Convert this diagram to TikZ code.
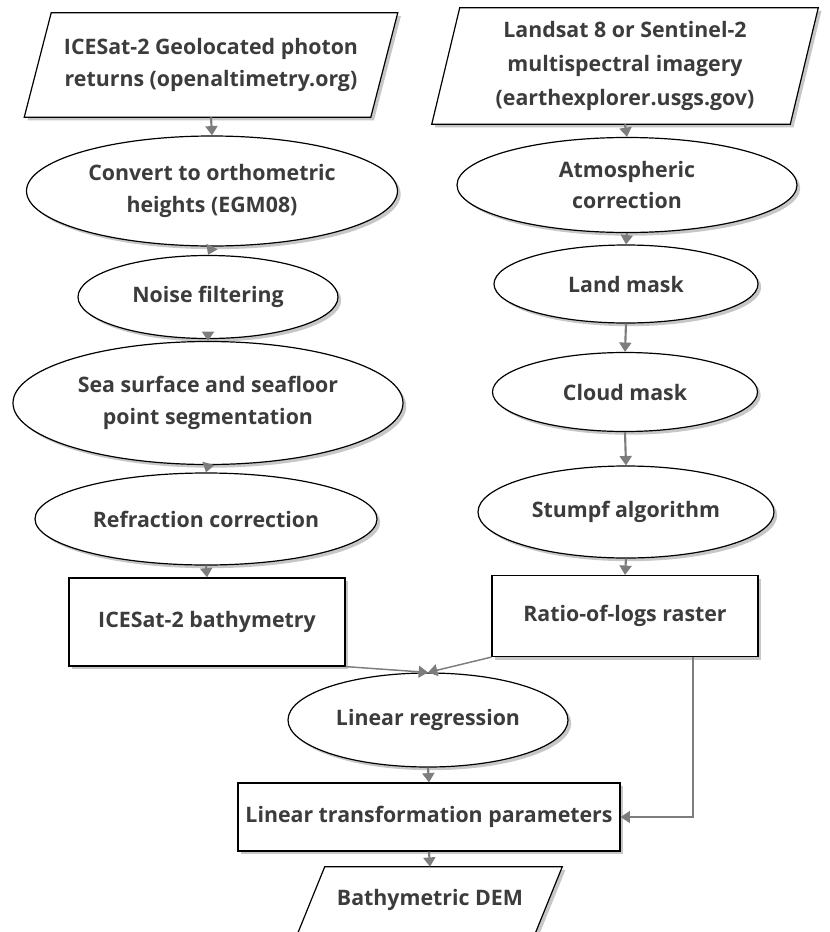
\documentclass[tikz,border=0pt]{standalone}
\usepackage{fontspec}
\setmainfont{Open Sans}
\usepackage{xcolor}
\definecolor{txtgray}{RGB}{60,60,60}
\definecolor{arrgray}{RGB}{125,125,125}
\usepackage{tikz}
\usetikzlibrary{arrows.meta,shapes.geometric,shadows,calc,backgrounds}
\newlength\pxu
\setlength\pxu{0.75pt}

\begin{document}
\begin{tikzpicture}[
  x=0.75pt, y=-0.75pt,
  font=\fontsize{16}{23.5}\selectfont\bfseries,
  shade/.style={drop shadow={shadow xshift=2.4pt, shadow yshift=-2.4pt,
                             opacity=0.22, fill=black}},
  base/.style={draw, line width=0.9pt, fill=white, text=txtgray, align=center,
               inner sep=0pt, shade},
  ell/.style 2 args={base, ellipse, minimum width=#1\pxu, minimum height=#2\pxu},
  boxnode/.style 2 args={base, rectangle, minimum width=#1\pxu, minimum height=#2\pxu},
  datanode/.style 2 args={text=txtgray, align=center, inner sep=0pt,
               minimum width=#1\pxu, minimum height=#2\pxu},
  paral/.style={draw, line width=0.9pt, fill=white, shade},
  arr/.style={-{Triangle[width=9pt,length=7pt]}, line width=1.6pt, draw=arrgray, color=arrgray},
  thinarr/.style={-{Triangle[width=9pt,length=7pt]}, line width=1.1pt, draw=arrgray, color=arrgray}
]
\useasboundingbox (0,0) rectangle (830,932);

% left column: ICESat-2
\node[datanode={346}{104}] (icesat) at (211,65) {ICESat-2 Geolocated photon\\ returns (openaltimetry.org)};
\node[ell={371}{110}] (ortho) at (212,191) {Convert to orthometric\\ heights (EGM08)};
\node[ell={260}{83}]  (noise) at (208,297) {Noise filtering};
\node[ell={390}{123}] (segm)  at (208,403) {Sea surface and seafloor\\ point segmentation};
\node[ell={342}{92}]  (refr)  at (206,519) {Refraction correction};
\node[boxnode={276}{88}] (bathy) at (207,622) {ICESat-2 bathymetry};

% right column: multispectral imagery
\node[datanode={358}{116}, font=\fontsize{16}{25.5}\selectfont\bfseries] (imgry) at (625,66)
  {Landsat 8 or Sentinel-2\\ multispectral imagery\\ (earthexplorer.usgs.gov)};
\node[ell={340}{95}] (atmo)   at (627,185) {Atmospheric\\ correction};
\node[ell={264}{78}] (land)   at (626,284) {Land mask};
\node[ell={265}{79}] (cloud)  at (625,392) {Cloud mask};
\node[ell={296}{92}] (stumpf) at (626,512) {Stumpf algorithm};
\node[boxnode={266}{81}] (ratio) at (625,616) {Ratio-of-logs raster};

% merge
\node[ell={280}{94}] (regr) at (428,720) {Linear regression};
\node[boxnode={382}{68}] (param) at (429,817) {Linear transformation parameters};
\node[datanode={237}{66}] (dem) at (430,900) {Bathymetric DEM};
\coordinate (bend) at (693,817);

% data parallelograms behind their texts
\begin{scope}[on background layer]
\foreach \n/\s in {icesat/13.5, imgry/14, dem/13.5}
  \path[paral] ($(\n.north west)+(\s,0)$) -- ($(\n.north east)+(\s,0)$)
     -- ($(\n.south east)-(\s,0)$) -- ($(\n.south west)-(\s,0)$) -- cycle;
\end{scope}

\draw[arr] (icesat.south) -- (ortho.north);
\draw[arr] (ortho.south) -- (noise.north);
\draw[arr] (noise.south) -- (segm.north);
\draw[arr] (segm.south) -- (refr.north);
\draw[arr] (refr.south) -- (bathy.north);
\draw[arr] (imgry.south) -- (atmo.north);
\draw[arr] (atmo.south) -- (land.north);
\draw[arr] (land.south) -- (cloud.north);
\draw[arr] (cloud.south) -- (stumpf.north);
\draw[arr] (stumpf.south) -- (ratio.north);
\draw[thinarr] (bathy.south east) -- (regr.north);
\draw[thinarr] (ratio.south west) -- (regr.north);
\draw[thinarr] (ratio.south -| bend) -- (bend) -- (param.east);
\draw[arr] (regr.south) -- (param.north);
\draw[arr] (param.south) -- (dem.north);
\end{tikzpicture}
\end{document}
